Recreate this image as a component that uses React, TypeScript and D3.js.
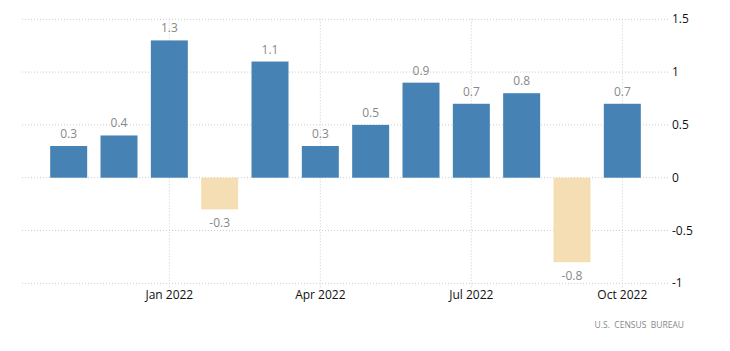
import React from "react";
import * as d3 from "d3";

const width = 730;
const height = 351;

// monthly change, %
const months = [
  "Nov 2021", "Dec 2021", "Jan 2022", "Feb 2022", "Mar 2022", "Apr 2022",
  "May 2022", "Jun 2022", "Jul 2022", "Aug 2022", "Sep 2022", "Oct 2022",
];
const values = [0.3, 0.4, 1.3, -0.3, 1.1, 0.3, 0.5, 0.9, 0.7, 0.8, -0.8, 0.7];
const tickMonths = ["Jan 2022", "Apr 2022", "Jul 2022", "Oct 2022"];
const yTicks = [1.5, 1, 0.5, 0, -0.5, -1];

const font = "'Open Sans', 'Liberation Sans', sans-serif";

const App = () => {
  const xScale = d3
    .scaleBand<string>()
    .domain(months)
    .range([22, 669])
    .paddingInner(0.265)
    .paddingOuter(0.56);

  const yScale = d3.scaleLinear().domain([-1, 1.5]).range([283.3, 19.3]);

  const left = 22;
  const right = 669;
  const bw = xScale.bandwidth();

  return (
    <svg
      width={width}
      height={height}
      style={{ position: "absolute", left: 0, top: 0, background: "#fff" }}
      fontFamily={font}
    >
      {/* horizontal grid + y labels */}
      {yTicks.map((t) => (
        <g key={t}>
          <line
            x1={left}
            x2={right}
            y1={yScale(t)}
            y2={yScale(t)}
            stroke="#ccc"
            strokeDasharray="1,2"
          />
          <text x={672} y={yScale(t) + 4} fontSize={12} fill="#111">
            {t}
          </text>
        </g>
      ))}

      {/* vertical grid at ticks */}
      {tickMonths.map((m) => {
        const cx = (xScale(m) ?? 0) + bw / 2;
        return (
          <g key={m}>
            <line
              x1={cx}
              x2={cx}
              y1={yScale(1.5)}
              y2={yScale(-1) + 4}
              stroke="#ccc"
              strokeDasharray="1,2"
            />
            <text x={cx} y={299} fontSize={12} textAnchor="middle" fill="#111">
              {m}
            </text>
          </g>
        );
      })}

      {/* bars */}
      {months.map((m, i) => {
        const v = values[i];
        const x = xScale(m) ?? 0;
        const y0 = yScale(0);
        const y1 = yScale(v);
        return (
          <g key={m}>
            <rect
              x={x}
              y={Math.min(y0, y1)}
              width={bw}
              height={Math.abs(y1 - y0)}
              fill={v >= 0 ? "#4682b4" : "#f5deb3"}
            />
            <text
              x={x + bw / 2}
              y={v >= 0 ? y1 - 8 : y1 + 18}
              fontSize={12}
              textAnchor="middle"
              fill="#888"
            >
              {v}
            </text>
          </g>
        );
      })}

      <text
        x={684}
        y={328}
        fontSize={8.5}
        textAnchor="end"
        fill="#888"
        style={{ whiteSpace: "pre" }}
      >
        U.S.  CENSUS  BUREAU
      </text>
    </svg>
  );
};

export default App;
